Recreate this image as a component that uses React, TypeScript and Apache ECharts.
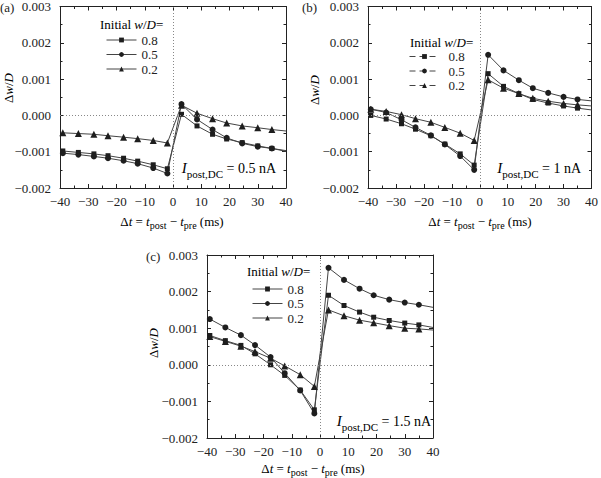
import React, { useEffect, useRef } from "react";
import * as echarts from "echarts";

const X = [-39, -33.5, -28, -23, -17.5, -12.5, -7, -2, 3, 8.5, 14, 19, 24.5, 30, 35, 40];
const NAMES = ["0.8", "0.5", "0.2"];
const SYMBOLS = ["rect", "circle", "triangle"];
const SYM_SIZES = [5, 6, 7];

const a08 = [-0.00098, -0.00102, -0.00106, -0.00111, -0.00118, -0.00126, -0.00136, -0.00147, 0.00003, -0.00029, -0.00052, -0.00065, -0.00075, -0.00084, -0.00091, -0.00099];
const a05 = [-0.00104, -0.00108, -0.00113, -0.00118, -0.00125, -0.00133, -0.00145, -0.0016, 0.00031, -0.00011, -0.00039, -0.00062, -0.00077, -0.00086, -0.00091, -0.00097];
const a02 = [-0.00048, -0.0005, -0.00052, -0.00056, -0.0006, -0.00064, -0.00069, -0.00076, 0.00028, 0.00006, -0.00009, -0.00021, -0.00029, -0.00034, -0.00039, -0.00043];

const b08 = [0.0, -0.0001, -0.00023, -0.00038, -0.00056, -0.00079, -0.00106, -0.00137, 0.00115, 0.0008, 0.0006, 0.00044, 0.00034, 0.00026, 0.0002, 0.00015];
const b05 = [0.00017, 0.00008, -0.00012, -0.00033, -0.00055, -0.0008, -0.00112, -0.0015, 0.00167, 0.00124, 0.00097, 0.00075, 0.00062, 0.00051, 0.00044, 0.0004];
const b02 = [0.00017, 0.00011, 0.00002, -0.00009, -0.00019, -0.00033, -0.00049, -0.00069, 0.00098, 0.00075, 0.0006, 0.00047, 0.00039, 0.00033, 0.00029, 0.00026];

const c08 = [0.0008, 0.00066, 0.00053, 0.0003, 0.0, -0.00029, -0.00069, -0.00123, 0.0019, 0.00162, 0.00144, 0.0013, 0.00121, 0.00114, 0.00109, 0.00102];
const c05 = [0.00125, 0.00102, 0.00081, 0.00054, 0.00021, -0.00023, -0.0007, -0.00133, 0.00265, 0.00232, 0.00208, 0.0019, 0.00178, 0.0017, 0.00164, 0.00157];
const c02 = [0.00077, 0.00064, 0.00051, 0.00036, 0.00018, -0.00003, -0.00027, -0.00059, 0.0015, 0.00134, 0.00122, 0.00115, 0.00107, 0.001, 0.00098, 0.00095];

const PANELS = [
  { label: "(a)", current: "0.5 nA", series: [a08, a05, a02] },
  { label: "(b)", current: "1 nA", series: [b08, b05, b02] },
  { label: "(c)", current: "1.5 nA", series: [c08, c05, c02] },
];

const FONT = "Liberation Serif";
const INK = "#222";

const GRIDS = [
  { left: 60, top: 6, width: 226, height: 182 },
  { left: 368, top: 6, width: 227, height: 182 },
  { left: 207, top: 255, width: 226, height: 183 },
];
const LEGEND_POS = [
  { titleX: 100, titleY: 24, left: 106, top: 33.5, dashed: false },
  { titleX: 410, titleY: 42, left: 409, top: 50, dashed: true },
  { titleX: 247, titleY: 271, left: 252, top: 282.5, dashed: false },
];
const YTITLE = [
  { x: 8, y: 88 },
  { x: 314, y: 90 },
  { x: 153, y: 343 },
];
const XTITLE = [
  { x: 172, y: 221 },
  { x: 480, y: 221 },
  { x: 313, y: 468 },
];
const ANNOT = [
  { x: 276, y: 168 },
  { x: 581, y: 168 },
  { x: 431, y: 421 },
];
const PLABEL = [
  { x: 0, y: 7 },
  { x: 302, y: 7 },
  { x: 146, y: 256 },
];

const fmtY = (v: number) => {
  const r = Math.round(v * 1e6) / 1e6;
  if (Math.abs(r) < 1e-9) return "0.000";
  return (r < 0 ? "\u2212" : "") + Math.abs(r).toFixed(3);
};
const fmtX = (v: number) => (v < 0 ? "\u2212" + Math.abs(v) : String(v));

export default function App() {
  const ref = useRef<HTMLDivElement>(null);
  useEffect(() => {
    if (!ref.current) return;
    const chart = echarts.init(ref.current, undefined, { renderer: "svg" });

    const grid: any[] = [];
    const xAxis: any[] = [];
    const yAxis: any[] = [];
    const series: any[] = [];
    const legend: any[] = [];
    const graphic: any[] = [];

    const rich = {
      n: { fontFamily: FONT, fontSize: 13, color: INK, lineHeight: 18, verticalAlign: "middle" },
      i: { fontFamily: FONT, fontSize: 13, fontStyle: "italic", color: INK, lineHeight: 18, verticalAlign: "middle" },
      s: { fontFamily: FONT, fontSize: 10, color: INK, lineHeight: 18, verticalAlign: "bottom" },
      bi: { fontFamily: FONT, fontSize: 15, fontStyle: "italic", color: INK, lineHeight: 22, verticalAlign: "middle" },
      bn: { fontFamily: FONT, fontSize: 14, color: INK, lineHeight: 22, verticalAlign: "middle" },
      bs: { fontFamily: FONT, fontSize: 11, color: INK, lineHeight: 22, verticalAlign: "bottom" },
    };

    PANELS.forEach((p, gi) => {
      grid.push({ ...GRIDS[gi], containLabel: false });
      const axLine = { show: true, onZero: false, lineStyle: { color: INK, width: 1 } };
      const tick = { show: true, inside: true, length: 4, lineStyle: { color: INK } };
      const minor = { show: true, splitNumber: 2, length: 2.5, lineStyle: { color: INK } };
      xAxis.push({
        type: "value", gridIndex: gi, min: -40, max: 40, interval: 10, position: "bottom",
        axisLine: axLine, axisTick: tick, minorTick: minor, splitLine: { show: false },
        axisLabel: { formatter: fmtX, fontFamily: FONT, fontSize: 13, color: INK, margin: 7 },
      });
      xAxis.push({
        type: "value", gridIndex: gi, min: -40, max: 40, interval: 10, position: "top",
        axisLine: axLine, axisTick: tick, minorTick: minor, splitLine: { show: false },
        axisLabel: { show: false },
      });
      yAxis.push({
        type: "value", gridIndex: gi, min: -0.002, max: 0.003, interval: 0.001, position: "left",
        axisLine: axLine, axisTick: tick, minorTick: minor, splitLine: { show: false },
        axisLabel: { formatter: fmtY, fontFamily: FONT, fontSize: 13, color: INK, margin: 9 },
      });
      yAxis.push({
        type: "value", gridIndex: gi, min: -0.002, max: 0.003, interval: 0.001, position: "right",
        axisLine: axLine, axisTick: tick, minorTick: minor, splitLine: { show: false },
        axisLabel: { show: false },
      });

      p.series.forEach((vals, si) => {
        const data = X.map((x, k) =>
          k === X.length - 1 ? { value: [x, vals[k]], symbol: "none" } : [x, vals[k]]
        );
        const s: any = {
          type: "line",
          name: NAMES[si],
          xAxisIndex: gi * 2,
          yAxisIndex: gi * 2,
          data,
          symbol: SYMBOLS[si],
          symbolSize: SYM_SIZES[si],
          showAllSymbol: true,
          lineStyle: { color: "#444", width: 1 },
          itemStyle: { color: "#1e1e1e", borderWidth: 0 },
          z: 3,
        };
        if (si === 0) {
          s.markLine = {
            silent: true,
            symbol: "none",
            label: { show: false },
            lineStyle: { color: "#888", type: [1, 2], width: 1 },
            data: [{ xAxis: 0 }, { yAxis: 0 }],
          };
        }
        series.push(s);
      });

      const L = LEGEND_POS[gi];
      legend.push({
        orient: "vertical",
        left: L.left,
        top: L.top,
        data: NAMES,
        itemWidth: 30,
        itemHeight: 6,
        itemGap: 1.5,
        padding: 0,
        selectedMode: false,
        textStyle: {
          fontFamily: FONT, fontSize: 13, color: INK,
          padding: [0, 0, 0, L.dashed ? 4 : 0],
        },
        lineStyle: L.dashed ? { type: [6, 4], width: 1, color: "#444" } : { width: 1, color: "#444" },
      });
      graphic.push({
        type: "text", x: L.titleX, y: L.titleY,
        style: {
          text: "{n|Initial }{i|w}{n|/}{i|D}{n|=}",
          rich: { n: { ...rich.n, fontSize: 13 }, i: { ...rich.i, fontSize: 13 } },
          align: "left", verticalAlign: "middle",
        },
      });

      const yt = YTITLE[gi];
      graphic.push({
        type: "text", x: yt.x, y: yt.y, rotation: Math.PI / 2,
        style: { text: "{n|\u0394}{i|w}{n|/}{i|D}", rich, align: "center", verticalAlign: "middle" },
      });
      const xt = XTITLE[gi];
      graphic.push({
        type: "text", x: xt.x, y: xt.y,
        style: {
          text: "{n|\u0394}{i|t}{n| = }{i|t}{s|post}{n| \u2212 }{i|t}{s|pre}{n| (ms)}",
          rich, align: "center", verticalAlign: "middle",
        },
      });
      const an = ANNOT[gi];
      graphic.push({
        type: "text", x: an.x, y: an.y,
        style: {
          text: "{bi|I}{bs|post,DC}{bn| = " + p.current + "}",
          rich, align: "right", verticalAlign: "middle",
        },
      });
      const pl = PLABEL[gi];
      graphic.push({
        type: "text", x: pl.x, y: pl.y,
        style: { text: p.label, fontFamily: FONT, fontSize: 13, fill: INK, align: "left", verticalAlign: "middle" },
      });
    });

    chart.setOption({
      animation: false,
      backgroundColor: "#fff",
      grid,
      xAxis,
      yAxis,
      series,
      legend,
      graphic,
    });
    return () => chart.dispose();
  }, []);
  return (
    <div
      ref={ref}
      style={{ position: "absolute", left: 0, top: 0, width: 601, height: 478 }}
    />
  );
}
